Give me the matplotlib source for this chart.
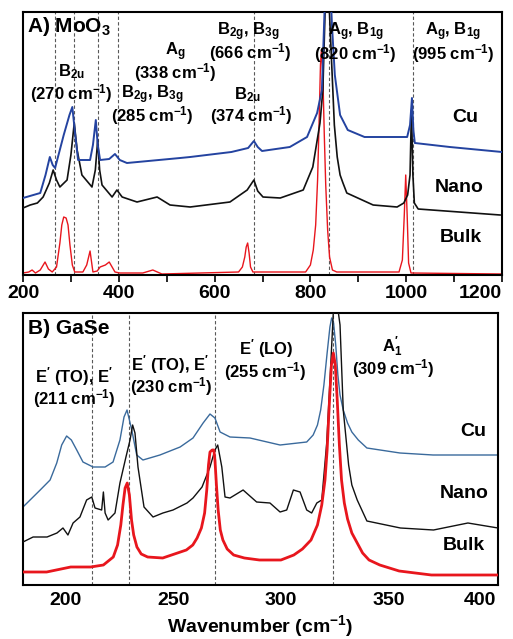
import numpy as np
import matplotlib
matplotlib.use("Agg")
import matplotlib.pyplot as plt

plt.rcParams["font.family"] = ["Liberation Sans", "DejaVu Sans"]
plt.rcParams["font.weight"] = "bold"
plt.rcParams["mathtext.fontset"] = "custom"
plt.rcParams["mathtext.rm"] = "Liberation Sans:bold"
plt.rcParams["mathtext.it"] = "Liberation Sans:bold"
plt.rcParams["mathtext.bf"] = "Liberation Sans:bold"
plt.rcParams["mathtext.sf"] = "Liberation Sans:bold"

# ----------------------------------------------------------------------
# A) MoO3 — intensity in arbitrary units (read off the figure)
# ----------------------------------------------------------------------
moo3_cu_wn = [200, 236, 247, 256, 262, 267, 285, 297, 303, 309, 315, 340, 346,
              352, 356, 361, 380, 392, 402, 417, 528, 549, 635, 670, 682, 690,
              699, 757, 793, 814, 824, 832, 838, 845, 851, 862, 878, 913, 1002,
              1008, 1012, 1015, 1018, 1091, 1200]
moo3_cu_int = [77, 82, 100, 118, 110, 107, 140, 160, 168, 140, 115, 115, 130,
               155, 130, 115, 116, 121, 115, 112, 117, 118, 123, 127, 134, 128,
               124, 128, 138, 162, 185, 300, 330, 250, 200, 160, 145, 138, 138,
               150, 177, 145, 132, 128, 123]

moo3_nano_wn = [200, 215, 230, 242, 255, 263, 270, 277, 292, 300, 307, 313, 323,
                344, 351, 356, 360, 365, 386, 396, 407, 438, 480, 507, 549, 632,
                668, 682, 690, 701, 737, 785, 805, 820, 826, 834, 840, 850, 856,
                862, 868, 876, 931, 981, 995, 1003, 1008, 1011, 1014, 1017, 1025,
                1196]
moo3_nano_int = [67, 70, 72, 78, 92, 105, 95, 88, 95, 120, 152, 125, 100,
                 88, 105, 135, 105, 90, 78, 85, 78, 73, 78, 70, 68, 73,
                 85, 95, 84, 78, 77, 85, 108, 152, 185, 320, 260, 150, 118,
                 100, 92, 82, 70, 68, 72, 80, 100, 165, 100, 72, 66,
                 60]

moo3_bulk_wn = [200, 212, 219, 226, 236, 246, 253, 261, 270, 277, 281, 285,
                290, 294, 298, 303, 308, 325, 333, 340, 346, 355, 361, 372, 380,
                386, 392, 402, 450, 471, 490, 650, 658, 663, 666, 669, 672, 675,
                680, 790, 800, 806, 811, 815, 818, 821, 823, 826, 829, 832, 836,
                840, 846, 855, 985, 992, 996, 999, 1002, 1005, 1010, 1200]
moo3_bulk_int = [2, 3, 5, 2, 5, 13, 6, 3, 8, 32, 50, 58,
                 57, 50, 30, 10, 3, 3, 10, 24, 3, 4, 8, 10, 13,
                 8, 3, 2, 2, 5, 1, 3, 8, 18, 28, 32, 22, 8,
                 3, 3, 10, 25, 50, 95, 150, 210, 225, 200, 140, 90, 45,
                 18, 5, 3, 3, 15, 60, 100, 60, 12, 2, 1]

moo3_lines = [267, 306, 357, 398, 682, 839, 1014]

# ----------------------------------------------------------------------
# B) GaSe
# ----------------------------------------------------------------------
gase_cu_wn = [180, 188, 192.6, 195.7, 198, 200.3, 202.5, 205, 207.9, 212.6,
              218.2, 221.9, 225.1, 227, 228.4, 230.6, 232.9, 235.8, 243.7,
              253.1, 259.1, 263.8, 267, 269.3, 271.7, 276.3, 285.6, 299.6,
              312, 315, 317, 318.5, 320, 321.5, 322.8, 323.6, 324.5, 325.5,
              326.5, 327.5, 329, 331, 333, 336, 340, 355.4, 370.8, 401]
gase_cu_int = [78, 95, 105, 122, 140, 149, 145, 135, 123, 118,
               118, 123, 145, 168, 175, 155, 130, 125, 130,
               138, 147, 162, 171, 167, 153, 148, 147, 140,
               143, 150, 160, 175, 200, 232, 258, 267, 262, 240,
               210, 190, 175, 162, 153, 145, 137, 132, 130, 130]

gase_nano_wn = [180, 184.7, 191.2, 195.8, 198.6, 200.9, 203.3, 206.5, 209.6,
                212, 213.5, 216.6, 217.4, 218.2, 219.6, 222.8, 225.1, 227.9,
                229.8, 231, 232.1, 233.5, 236.3, 240.5, 245.1, 249.8, 256.3,
                259.1, 263.3, 267, 269.3, 270.6, 272.5, 274, 276.3, 282.4,
                288.7, 294.9, 299.6, 302.7, 305.8, 308.9, 312, 314.3, 316.7,
                319, 321.3, 322.9, 325, 327.5, 329, 331.5, 333, 335.5, 340,
                355.6, 371, 387, 401]
gase_nano_int = [43, 48, 48, 52, 57, 50, 62, 68, 85,
                 88, 77, 75, 93, 72, 65, 72, 102, 128,
                 145, 160, 152, 118, 78, 68, 72, 75, 82,
                 87, 98, 118, 135, 140, 118, 88, 87, 95,
                 83, 82, 73, 75, 95, 93, 75, 72, 82,
                 85, 142, 208, 300, 260, 175, 120, 100, 85, 64,
                 57, 55, 62, 57]

gase_bulk_wn = [180, 191, 202.2, 211.5, 217.4, 222, 224, 225.5, 226.5, 227.5,
                228.5, 229.5, 230.5, 231.5, 233, 235, 238, 245, 256, 259, 261,
                263, 264.5, 265.5, 266.3, 267, 268, 268.8, 269.3, 270, 270.8,
                271.8, 273, 275, 278, 283, 290, 300, 306, 310, 314, 317, 319,
                320.5, 321.5, 322.5, 323.5, 324.4, 325.3, 326.2, 327.2, 328.2,
                329.5, 331, 333, 335.5, 338, 341, 346, 355, 370, 401]
gase_bulk_int = [13, 13, 18, 18, 20, 28, 40, 60, 80, 97,
                 102, 90, 65, 50, 38, 31, 28, 27, 35, 40, 47,
                 57, 72, 95, 120, 133, 135, 135, 125, 100, 75,
                 55, 45, 36, 30, 27, 25, 25, 30, 36, 45, 60, 80,
                 105, 135, 180, 220, 232, 220, 185, 140, 105,
                 82, 66, 52, 42, 32, 25, 20, 14, 10, 10]

gase_lines = [212.1, 229.3, 269.3, 324.3]

RED = "#e8161d"
DASH = dict(color="0.35", lw=0.8, ls=(0, (3, 2)), zorder=1)

fig = plt.figure(figsize=(5.13, 6.39), dpi=100)

# ---------------------------- panel A ----------------------------------
ax1 = fig.add_axes([23 / 513, 1 - 275 / 639, 479 / 513, 263 / 639])
for x in moo3_lines:
    ax1.axvline(x, **DASH)
ax1.plot(moo3_bulk_wn, moo3_bulk_int, color=RED, lw=1.0, zorder=2)
ax1.plot(moo3_nano_wn, moo3_nano_int, color="#111111", lw=1.2, zorder=3)
ax1.plot(moo3_cu_wn, moo3_cu_int, color="#2443a0", lw=1.4, zorder=4)
ax1.set_xlim(200, 1200)
ax1.set_ylim(0, 263)
ax1.set_yticks([])
ax1.set_xticks(np.arange(200, 1201, 200))
ax1.set_xticks(np.arange(300, 1200, 200), minor=True)
ax1.tick_params(axis="x", which="both", direction="out", length=5, width=1.2,
                labelsize=14, pad=2)
ax1.get_xticklabels()[-1].set_ha("right")
for s in ax1.spines.values():
    s.set_linewidth(1.5)


def lab(ax, px, py, w, h, s, size=12, ha="center"):
    # place text by pixel position inside axes of pixel size (w, h)
    ax.text(px / w, py / h, s, transform=ax.transAxes, ha=ha, va="center",
            fontsize=size, fontweight="bold", zorder=6)


W1, H1 = 479, 263
lab(ax1, 4, 248, W1, H1, "A) MoO$_3$", size=15, ha="left")
lab(ax1, 49, 203, W1, H1, "B$_{2u}$")
lab(ax1, 48, 181, W1, H1, "(270 cm$^{-1}$)")
lab(ax1, 152, 223, W1, H1, "A$_g$")
lab(ax1, 152, 202, W1, H1, "(338 cm$^{-1}$)")
lab(ax1, 129, 180, W1, H1, "B$_{2g}$, B$_{3g}$")
lab(ax1, 129, 159, W1, H1, "(285 cm$^{-1}$)")
lab(ax1, 225, 243, W1, H1, "B$_{2g}$, B$_{3g}$")
lab(ax1, 227, 222, W1, H1, "(666 cm$^{-1}$)")
lab(ax1, 225, 180, W1, H1, "B$_{2u}$")
lab(ax1, 228, 159, W1, H1, "(374 cm$^{-1}$)")
lab(ax1, 333, 243, W1, H1, "A$_g$, B$_{1g}$")
lab(ax1, 332, 221, W1, H1, "(820 cm$^{-1}$)")
lab(ax1, 430, 243, W1, H1, "A$_g$, B$_{1g}$")
lab(ax1, 430, 221, W1, H1, "(995 cm$^{-1}$)")
lab(ax1, 442, 157, W1, H1, "Cu", size=14)
lab(ax1, 436, 88, W1, H1, "Nano", size=14)
lab(ax1, 438, 37, W1, H1, "Bulk", size=14)

# ---------------------------- panel B ----------------------------------
ax2 = fig.add_axes([23 / 513, 1 - 585 / 639, 475 / 513, 272 / 639])
for x in gase_lines:
    ax2.axvline(x, **DASH)
ax2.plot(gase_cu_wn, gase_cu_int, color="#3a6a9c", lw=1.0, zorder=2)
ax2.plot(gase_nano_wn, gase_nano_int, color="#111111", lw=1.0, zorder=3)
ax2.plot(gase_bulk_wn, gase_bulk_int, color=RED, lw=2.0, zorder=4)
ax2.set_xlim(180, 401)
ax2.set_ylim(0, 272)
ax2.set_yticks([])
ax2.set_xticks(np.arange(200, 401, 50))
ax2.tick_params(axis="x", length=0, labelsize=14, pad=5)
ax2.get_xticklabels()[-1].set_ha("right")
for s in ax2.spines.values():
    s.set_linewidth(1.5)
ax2.set_xlabel("Wavenumber (cm$^{-1}$)", fontsize=14, fontweight="bold",
               labelpad=3)

W2, H2 = 475, 272
lab(ax2, 5, 256, W2, H2, "B) GaSe", size=15, ha="left")
lab(ax2, 51, 208, W2, H2, "E$^{\\prime}$ (TO), E$^{\\prime}$")
lab(ax2, 51, 186, W2, H2, "(211 cm$^{-1}$)")
lab(ax2, 147, 220, W2, H2, "E$^{\\prime}$ (TO), E$^{\\prime}$")
lab(ax2, 148, 198, W2, H2, "(230 cm$^{-1}$)")
lab(ax2, 243, 236, W2, H2, "E$^{\\prime}$ (LO)")
lab(ax2, 242, 213, W2, H2, "(255 cm$^{-1}$)")
lab(ax2, 369, 238, W2, H2, "A$_1^{\\prime}$")
lab(ax2, 370, 216, W2, H2, "(309 cm$^{-1}$)")
lab(ax2, 450, 153, W2, H2, "Cu", size=14)
lab(ax2, 441, 91, W2, H2, "Nano", size=14)
lab(ax2, 441, 39, W2, H2, "Bulk", size=14)

fig.savefig("out.png", dpi=100)
